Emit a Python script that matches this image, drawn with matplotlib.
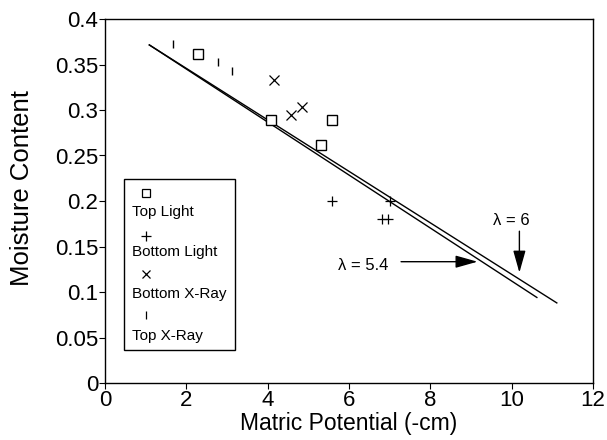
import matplotlib
matplotlib.use("Agg")
import matplotlib.pyplot as plt
from matplotlib.patches import Rectangle

plt.rcParams['font.family'] = ['Liberation Sans', 'DejaVu Sans']

# Data
top_light_x = [2.28, 4.08, 5.57, 5.31]
top_light_y = [0.362, 0.289, 0.289, 0.261]
bottom_light_x = [5.57, 7.02, 6.81, 6.97]
bottom_light_y = [0.200, 0.200, 0.180, 0.180]
bottom_xray_x = [4.16, 4.57, 4.84]
bottom_xray_y = [0.333, 0.294, 0.303]
top_xray_x = [1.68, 2.77, 3.12]
top_xray_y = [0.373, 0.353, 0.343]

line_54_x = [1.09, 10.62]
line_54_y = [0.3715, 0.094]
line_6_x = [1.09, 11.11]
line_6_y = [0.3715, 0.088]

legend_labels = ["Top Light", "Bottom Light", "Bottom X-Ray", "Top X-Ray"]
xticks = [0, 2, 4, 6, 8, 10, 12]
yticks = [0, 0.05, 0.1, 0.15, 0.2, 0.25, 0.3, 0.35, 0.4]
ytick_labels = ["0", "0.05", "0.1", "0.15", "0.2", "0.25", "0.3", "0.35", "0.4"]

fig = plt.figure(figsize=(6.07, 4.40), dpi=100)
L, R, T, B = 105, 593, 19, 383
ax = fig.add_axes([L/607, 1-B/440, (R-L)/607, (B-T)/440])

ax.plot(line_54_x, line_54_y, color='black', lw=1.0)
ax.plot(line_6_x, line_6_y, color='black', lw=1.0)

ms_kw = dict(linestyle='none', color='black')
ax.plot(top_light_x, top_light_y, marker='s', markersize=7, markerfacecolor='white',
        markeredgewidth=1.0, **ms_kw)
ax.plot(bottom_light_x, bottom_light_y, marker='+', markersize=7, markeredgewidth=0.9, **ms_kw)
ax.plot(bottom_xray_x, bottom_xray_y, marker='x', markersize=7, markeredgewidth=0.9, **ms_kw)
ax.plot(top_xray_x, top_xray_y, marker='|', markersize=6, markeredgewidth=1.0, **ms_kw)

# annotations
arrow_kw = dict(arrowstyle='-|>,head_width=0.38,head_length=1.35', color='black', lw=1.0,
                shrinkA=0, shrinkB=0, mutation_scale=10)
ax.annotate("", xy=(10.19, 0.1213), xytext=(10.19, 0.1668), arrowprops=arrow_kw)
ax.text(9.98, 0.1786, "\u03bb = 6", fontsize=12, ha='center', va='center')
ax.annotate("", xy=(9.16, 0.1333), xytext=(7.28, 0.1333), arrowprops=arrow_kw)
ax.text(6.36, 0.1286, "\u03bb = 5.4", fontsize=12, ha='center', va='center')

ax.set_xlim(0, 12)
ax.set_ylim(0, 0.4)
ax.set_xticks(xticks)
ax.set_xticklabels([str(t) for t in xticks])
ax.set_yticks(yticks)
ax.set_yticklabels(ytick_labels)
ax.tick_params(direction='out', length=4, width=0.8, labelsize=16, pad=1)
for s in ax.spines.values():
    s.set_linewidth(1.0)
ax.set_xlabel("Matric Potential (-cm)", fontsize=16.5, labelpad=1)
ax.set_ylabel("Moisture Content", fontsize=18.5)
ax.yaxis.set_label_coords((34 - L) / (R - L), (B - 188) / (B - T))

# custom legend (marker above label)
def fx(px):
    return (px - L) / (R - L)
def fy(py):
    return (B - py) / (B - T)

ax.add_patch(Rectangle((fx(124), fy(350)), fx(235) - fx(124), fy(179) - fy(350),
                       transform=ax.transAxes, facecolor='white', edgecolor='black',
                       lw=1.0, zorder=5))
marker_specs = [('s', 6, 'white'), ('+', 7, 'black'), ('x', 6, 'black'), ('|', 6, 'black')]
marker_py = [193, 236, 274, 315]
label_py = [212, 252, 294, 336]
for (m, sz, fc), mpy, lpy, lab in zip(marker_specs, marker_py, label_py, legend_labels):
    ax.plot([fx(146)], [fy(mpy)], marker=m, markersize=sz, markerfacecolor=fc,
            color='black', markeredgewidth=0.9, transform=ax.transAxes, zorder=6,
            clip_on=False, linestyle='none')
    ax.text(fx(132), fy(lpy), lab, fontsize=11, ha='left', va='center',
            transform=ax.transAxes, zorder=6)

fig.savefig("out.png", dpi=100)
